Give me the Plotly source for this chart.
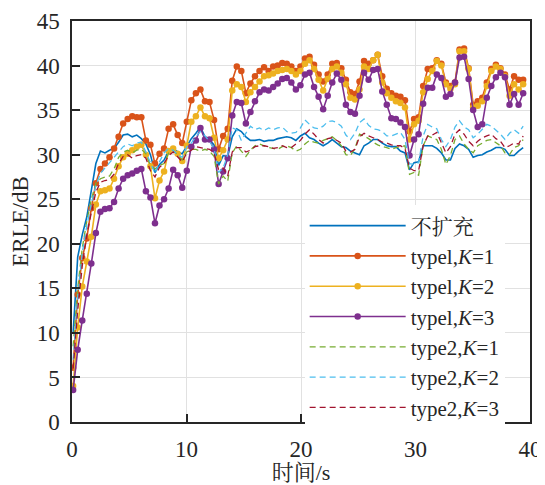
import plotly.graph_objects as go

# sampling grid (s)
time_s = [round(0.1 + 0.397 * k, 3) for k in range(100)]

no_expand = [10.0, 18.5, 21.0, 23.0, 26.0,
             29.0, 30.4, 30.2, 30.5, 30.7, 31.4, 32.2, 32.3, 32.0, 32.2, 31.8, 31.2, 30.0, 28.0, 28.9, 29.4, 30.4, 30.7, 30.3, 30.1, 31.0, 31.8,
             32.4, 33.1, 32.0, 31.7, 31.1, 28.8, 29.9, 29.8, 32.0, 32.9, 32.6, 32.0, 31.6, 31.6, 31.7, 31.5, 31.6, 31.6, 31.8, 31.9, 32.0, 31.9, 31.6, 32.1, 32.4,
             31.9, 31.7, 31.3, 31.0, 31.3, 31.7, 31.3, 30.9, 30.8, 30.4, 30.2, 30.0, 31.0, 31.3, 31.7, 31.7, 31.3, 31.0, 30.9, 30.9, 30.4, 30.2, 28.3, 29.1, 29.2,
             31.0, 31.0, 31.0, 30.7, 30.2, 29.4, 29.4, 30.7, 31.2, 31.0, 30.6, 29.7, 29.9, 30.0, 30.3, 30.5, 30.8, 30.8, 30.6, 29.9, 29.9, 30.4, 30.8]

type1_k1 = [6.1, 14.3, 18.4, 20.6, 24.0,
            26.8, 28.4, 29.0, 29.7, 30.7, 32.0, 33.5, 34.0, 34.3, 34.2, 34.2, 31.6, 31.1, 29.0, 30.1, 30.7, 32.9, 33.4, 32.2, 31.3, 33.7, 36.1,
            36.9, 37.3, 36.0, 35.9, 33.9, 30.6, 32.1, 32.9, 38.3, 39.9, 39.4, 36.9, 38.0, 38.8, 39.4, 39.8, 39.4, 39.9, 40.0, 40.3, 40.2, 39.9, 39.4, 39.9, 40.8,
            41.0, 40.1, 39.0, 38.2, 39.0, 40.2, 40.3, 39.7, 38.4, 37.0, 36.8, 38.2, 40.5, 40.2, 40.6, 41.2, 38.8, 37.4, 36.9, 36.6, 36.5, 36.1, 32.6, 34.0, 34.2,
            37.7, 39.6, 39.7, 40.6, 40.2, 38.1, 37.7, 38.1, 41.8, 41.9, 39.7, 35.6, 36.0, 36.4, 38.1, 39.6, 40.1, 39.7, 39.0, 37.3, 38.8, 38.4, 38.4]

type1_k2 = [4.05, 10.6, 15.2, 18.0, 20.8,
            24.4, 25.9, 26.0, 26.2, 27.3, 28.7, 29.7, 30.1, 30.5, 30.9, 31.1, 30.0, 28.7, 25.1, 27.1, 28.1, 30.4, 30.7, 30.1, 29.3, 31.0, 33.7,
            34.3, 35.3, 34.3, 34.1, 31.9, 29.6, 30.5, 31.7, 37.2, 37.9, 37.6, 35.9, 37.0, 37.6, 38.2, 38.8, 38.9, 39.1, 39.4, 39.5, 39.6, 39.4, 39.0, 39.4, 40.2,
            40.6, 39.6, 38.4, 37.2, 38.5, 39.6, 39.9, 39.2, 37.9, 36.4, 36.2, 37.3, 39.9, 39.6, 40.6, 41.2, 38.1, 36.9, 36.4, 36.0, 35.8, 35.3, 31.7, 33.4, 33.8,
            37.0, 38.5, 39.4, 40.5, 40.0, 37.9, 37.4, 37.9, 41.6, 41.6, 39.6, 35.3, 35.5, 36.0, 37.7, 39.4, 39.9, 39.6, 38.8, 36.6, 37.9, 37.3, 37.9]

type1_k3 = [3.6, 8.1, 11.4, 14.4, 17.8,
            21.2, 23.6, 23.9, 24.0, 24.7, 26.2, 27.3, 27.7, 27.9, 28.2, 28.4, 25.9, 25.2, 22.3, 24.3, 25.0, 26.2, 28.3, 27.7, 26.3, 28.2, 30.9,
            31.6, 33.0, 31.7, 31.7, 30.6, 26.7, 28.1, 29.6, 34.4, 35.9, 35.8, 33.5, 34.8, 36.0, 37.0, 37.3, 37.2, 37.6, 38.0, 38.5, 38.6, 38.1, 37.3, 37.8, 39.0,
            39.2, 37.6, 36.5, 35.1, 36.6, 38.1, 39.1, 38.4, 35.6, 34.8, 34.6, 36.6, 39.2, 38.4, 39.5, 39.6, 37.1, 35.6, 34.1, 34.0, 33.6, 33.1, 29.9, 31.7, 32.3,
            35.7, 37.5, 37.5, 39.0, 38.6, 36.5, 36.8, 38.1, 40.9, 41.0, 38.5, 35.0, 33.1, 33.4, 36.4, 37.7, 38.7, 39.2, 38.7, 35.6, 36.8, 35.6, 36.9]

type2_k1 = [8.5, 15.0, 19.5, 22.5, 25.0,
            26.8, 27.3, 27.5, 27.6, 28.4, 29.7, 30.3, 30.5, 30.2, 30.5, 30.6, 30.1, 28.8, 28.4, 28.8, 29.0, 30.2, 30.5, 29.9, 29.4, 30.3, 30.6,
            30.6, 30.4, 30.6, 30.4, 29.8, 26.7, 27.6, 27.0, 30.2, 31.0, 30.4, 29.8, 30.5, 31.0, 31.2, 31.0, 30.8, 30.7, 30.6, 30.9, 31.0, 30.8, 30.4, 30.6, 31.2,
            31.6, 31.4, 31.3, 31.6, 31.8, 32.0, 31.6, 31.0, 30.0, 29.9, 30.7, 32.3, 32.1, 31.8, 31.4, 31.1, 30.9, 30.8, 30.6, 30.8, 30.9, 31.0, 27.8, 28.0, 27.7,
            31.0, 32.1, 31.9, 31.7, 30.6, 28.9, 29.9, 31.7, 32.1, 31.2, 30.6, 30.2, 31.0, 31.3, 31.6, 31.7, 31.3, 31.0, 30.2, 30.0, 30.8, 31.0, 31.7]

type2_k2 = [7.0, 14.0, 19.0, 22.0, 24.5,
            26.5, 27.9, 28.5, 29.0, 29.7, 30.2, 30.9, 31.2, 31.0, 31.3, 31.4, 30.3, 29.1, 27.9, 29.2, 30.2, 30.7, 30.5, 30.0, 29.7, 30.9, 31.3,
            32.0, 32.6, 32.1, 31.5, 30.7, 28.0, 28.5, 30.0, 33.0, 32.8, 31.6, 32.4, 33.2, 32.8, 33.0, 32.7, 33.0, 32.8, 33.0, 33.1, 32.6, 32.4, 32.5, 33.0, 33.9,
            33.4, 33.0, 32.9, 33.2, 33.7, 33.8, 33.6, 33.2, 32.2, 31.7, 32.4, 33.6, 34.0, 33.3, 32.9, 32.8, 32.6, 32.1, 32.1, 32.3, 32.5, 31.7, 29.0, 28.9, 29.1,
            32.1, 33.4, 33.1, 32.9, 31.7, 30.9, 31.7, 33.1, 33.8, 33.1, 32.8, 31.9, 32.3, 32.9, 33.4, 33.2, 32.8, 32.3, 31.7, 32.4, 32.8, 32.4, 33.2]

type2_k3 = [6.0, 12.5, 17.5, 21.0, 23.5,
            25.8, 26.9, 27.1, 27.2, 27.8, 29.0, 29.8, 30.0, 29.6, 29.9, 30.0, 29.6, 28.2, 27.5, 28.6, 29.0, 29.9, 30.3, 29.7, 29.2, 30.2, 30.5,
            30.9, 30.8, 30.7, 30.6, 30.2, 28.3, 28.5, 27.6, 30.3, 30.8, 30.8, 30.3, 30.5, 30.9, 31.0, 31.0, 30.9, 30.7, 30.8, 31.0, 30.8, 30.8, 31.2, 31.6, 32.3,
            32.8, 32.3, 31.7, 31.3, 31.8, 31.9, 31.6, 31.3, 30.4, 30.3, 30.6, 32.0, 32.4, 32.1, 31.9, 31.7, 31.4, 31.3, 31.1, 31.0, 31.0, 30.7, 28.5, 28.2, 28.2,
            31.0, 32.1, 32.2, 32.5, 31.3, 30.2, 30.9, 32.3, 32.8, 32.3, 31.5, 31.0, 31.5, 31.9, 32.1, 32.3, 31.8, 31.5, 30.8, 31.0, 31.3, 31.2, 32.1]

names = ["不扩充", "typel,<i>K</i>=1", "typel,<i>K</i>=2", "typel,<i>K</i>=3",
         "type2,<i>K</i>=1", "type2,<i>K</i>=2", "type2,<i>K</i>=3"]
series = [no_expand, type1_k1, type1_k2, type1_k3, type2_k1, type2_k2, type2_k3]
colors = ["#0072BD", "#D95319", "#EDB120", "#7E2F8E", "#77AC30", "#4DBEEE", "#A2142F"]
x_ticks = [0, 10, 20, 30, 40]
y_ticks = [0, 5, 10, 15, 20, 25, 30, 35, 40, 45]

FONT = "Liberation Serif, 'Noto Serif CJK SC', 'Noto Sans CJK SC', serif"

fig = go.Figure()
for i, (nm, ys, c) in enumerate(zip(names, series, colors)):
    if i == 0:
        fig.add_trace(go.Scatter(x=time_s, y=ys, name=nm, mode="lines",
                                 line=dict(color=c, width=1.6)))
    elif i <= 3:
        fig.add_trace(go.Scatter(x=time_s, y=ys, name=nm, mode="lines+markers",
                                 line=dict(color=c, width=1.6),
                                 marker=dict(color=c, size=6.5)))
    else:
        fig.add_trace(go.Scatter(x=time_s, y=ys, name=nm, mode="lines",
                                 line=dict(color=c, width=1.3, dash="6px,4px")))

axis_common = dict(showline=True, linecolor="#262626", linewidth=1.5, mirror=True,
                   ticks="inside", ticklen=8, tickwidth=1.5, tickcolor="#262626",
                   showgrid=True, gridcolor="#e1e1e1", gridwidth=1, zeroline=False,
                   tickfont=dict(family=FONT, size=23, color="#262626"),
                   ticklabelstandoff=6, automargin=False)

fig.update_xaxes(range=[0, 40], tickvals=x_ticks,
                 title=dict(text="时间/s", font=dict(family=FONT, size=22, color="#262626"), standoff=4),
                 **axis_common)
fig.update_yaxes(range=[0, 45], tickvals=y_ticks,
                 title=dict(text="ERLE/dB", font=dict(family=FONT, size=23, color="#262626"), standoff=11),
                 **axis_common)

# page body has an 8px margin, so the figure is sized to fit the window
fig.update_layout(
    width=537, height=477,
    margin=dict(l=64, r=15, t=13, b=63),
    paper_bgcolor="white", plot_bgcolor="white",
    showlegend=True,
    legend=dict(x=0.508, y=0.262, xanchor="left", yanchor="middle",
                bgcolor="white", borderwidth=0, itemwidth=96,
                font=dict(family=FONT, size=21, color="#262626"),
                tracegroupgap=0),
)

fig.write_html("out.html")
